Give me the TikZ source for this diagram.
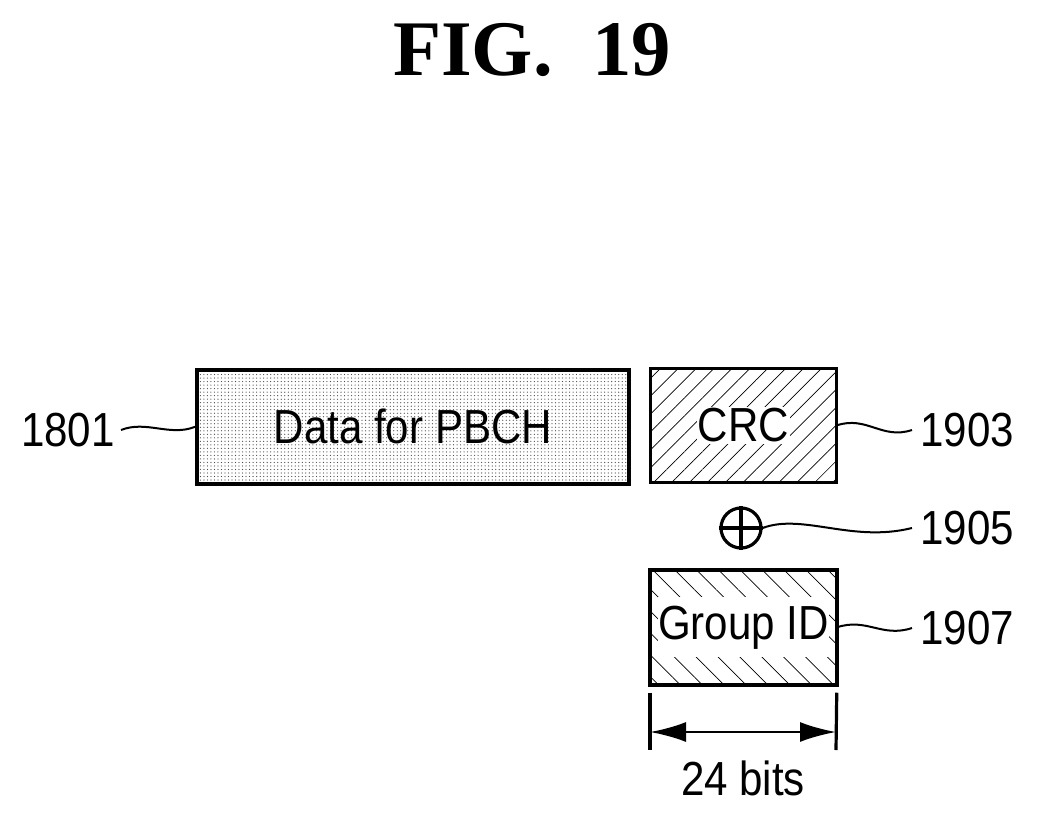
\documentclass[tikz,border=0pt]{standalone}
\usepackage{fontspec}
\setmainfont{Liberation Sans}
\newfontfamily\titlefont{Liberation Serif}
\usetikzlibrary {arrows.meta,
                 calc,
                 patterns.meta,
                 positioning}
\tikzset{
        field/.style={draw, line width=0.9mm, minimum height=2.85cm, inner sep=0pt},
        narrow/.style={xscale=0.88, transform shape},
        ref/.style={font=\fontsize{34}{36}\selectfont, inner sep=0pt},
        lead/.style={line width=0.5mm},
        dimarrow/.style={{Latex[length=9mm,width=5mm]}-{Latex[length=9mm,width=5mm]}, line width=0.6mm},
 }
\begin{document}
\begin{tikzpicture}[x=0.025cm, y=-0.025cm, font=\fontsize{34}{36}\selectfont]
    \useasboundingbox (0,0) rectangle (1044,814);
    \node[font=\titlefont\bfseries\fontsize{56}{60}\selectfont] (title) at (532,50) {FIG.~~19};

    \node[field, minimum width=10.8cm, pattern={Dots[distance=2.5pt, radius=0.45pt]}, pattern color=black!70, anchor=north west] (data) at (195,368) {};
    \node[narrow] at (data) {Data for PBCH};
    \node[field, minimum width=4.65cm, pattern={Lines[angle=45, distance=9pt, line width=0.5pt]}, anchor=north west] (crc) at (650,368) {};
    \node[narrow, fill=white, inner sep=1pt] at (crc) {CRC};
    \node[circle, draw, line width=0.8mm, minimum size=1cm, inner sep=0pt] (xor) at (741,528) {};
    \draw[line width=0.8mm] (xor.north) -- (xor.south) (xor.west) -- (xor.east);
    \node[field, minimum width=4.65cm, pattern={Lines[angle=-45, distance=11pt, line width=0.5pt]}, anchor=north west] (gid) at (650,570) {};
    \node[narrow, fill=white, inner xsep=0pt, inner ysep=6pt] at (gid) {Group ID};
    \draw[line width=0.9mm] (gid.north west) rectangle (gid.south east);

    % reference numerals
    \node[ref, narrow] (n1801) at (68,430) {1801};
    \node[ref, narrow] (n1903) at (967,430) {1903};
    \node[ref, narrow] (n1905) at (967,528) {1905};
    \node[ref, narrow] (n1907) at (967,628) {1907};
    \draw[lead] (n1801.east) ++(6,0) .. controls +(25,-10) and +(-25,10) .. (data.west);
    \draw[lead] (crc.east) .. controls +(30,-10) and +(-30,10) .. ($(n1903.west)-(8,0)$);
    \draw[lead] (xor.east) .. controls +(40,-15) and +(-60,15) .. ($(n1905.west)-(8,0)$);
    \draw[lead] (gid.east) .. controls +(30,-10) and +(-30,10) .. ($(n1907.west)-(8,0)$);

    % width of group id
    \coordinate (t1) at (650,750);
    \coordinate (t2) at (836,750);
    \draw[line width=0.8mm] (gid.south west) ++(0,8) -- (t1);
    \draw[line width=0.8mm] (gid.south east) ++(0,8) -- (t2);
    \draw[dimarrow] ($(t1)+(0,-18)$) -- ($(t2)+(0,-18)$);
    \node[narrow] (bits) at (743,778) {24 bits};
\end{tikzpicture}
\end{document}
